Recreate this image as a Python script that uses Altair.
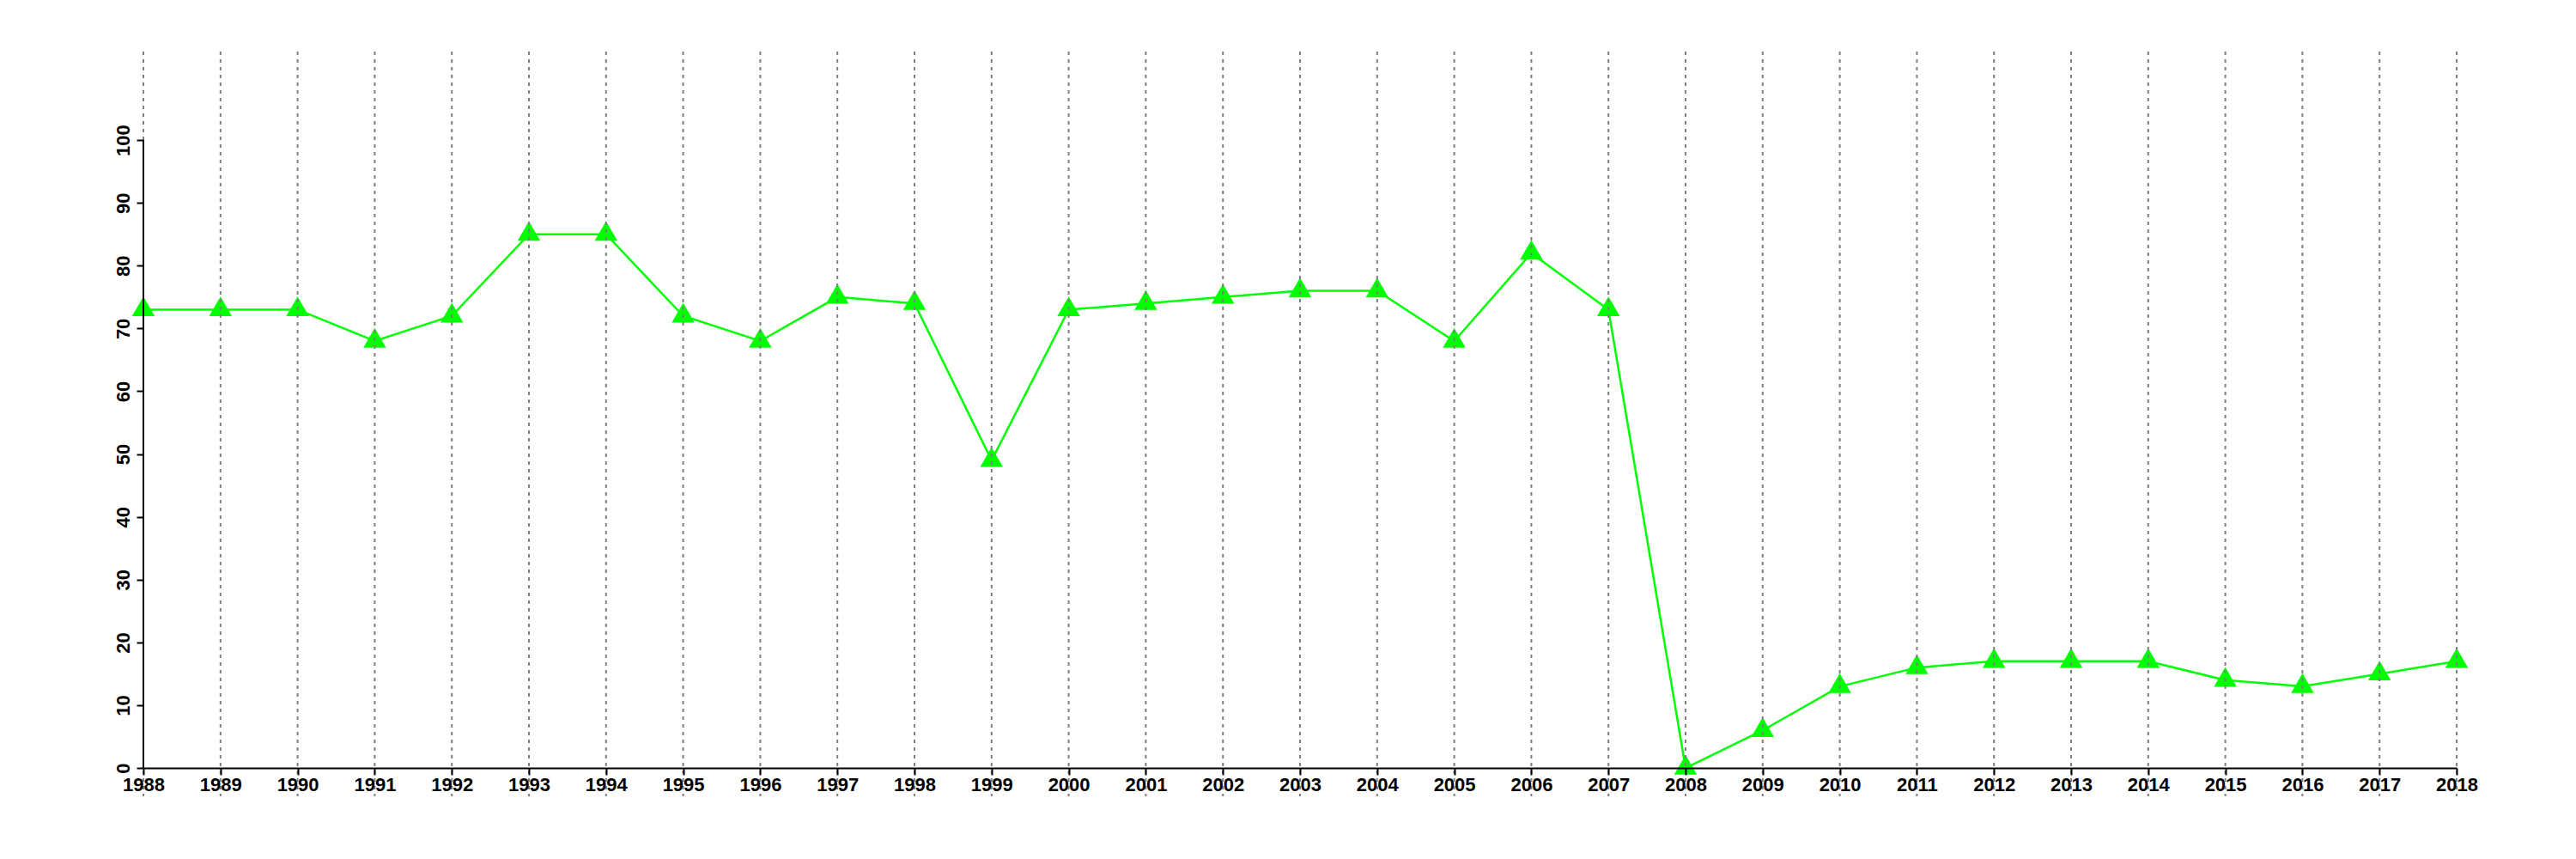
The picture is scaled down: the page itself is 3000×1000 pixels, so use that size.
import altair as alt
import pandas as pd

years = [1988, 1989, 1990, 1991, 1992, 1993, 1994, 1995, 1996, 1997, 1998,
         1999, 2000, 2001, 2002, 2003, 2004, 2005, 2006, 2007, 2008, 2009,
         2010, 2011, 2012, 2013, 2014, 2015, 2016, 2017, 2018]
values = [73, 73, 73, 68, 72, 85, 85, 72, 68, 75, 74,
          49, 73, 74, 75, 76, 76, 68, 82, 73, 0, 6,
          13, 16, 17, 17, 17, 14, 13, 15, 17]
y_ticks = [0, 10, 20, 30, 40, 50, 60, 70, 80, 90, 100]

df = pd.DataFrame({"year": years, "value": values})
grid_df = pd.DataFrame({"year": years})
yaxis_df = pd.DataFrame({"x": [years[0]], "y": [0], "y2": [100]})

W, H = 2694, 867
Y_LO, Y_HI = -4.5, 114.1
x_off = -round((0 - Y_LO) * H / (Y_HI - Y_LO))

FONT = "Liberation Sans"

xscale = alt.Scale(domain=[years[0], years[-1]], nice=False, zero=False)
yscale = alt.Scale(domain=[Y_LO, Y_HI], nice=False, zero=False)

xaxis = alt.Axis(values=years, format="d", title=None, grid=False,
                 domain=True, domainColor="black", domainWidth=2,
                 ticks=True, tickSize=8, tickColor="black", tickWidth=2,
                 labelFont=FONT, labelFontSize=22, labelFontWeight="bold",
                 labelColor="black", labelPadding=1, labelBaseline="top",
                 labelAlign="center", offset=x_off, zindex=1,
                 labelOverlap=False, labelFlush=False)
yaxis = alt.Axis(values=y_ticks, title=None, grid=False, domain=False,
                 ticks=True, tickSize=8, tickColor="black", tickWidth=2,
                 labelFont=FONT, labelFontSize=22, labelFontWeight="bold",
                 labelColor="black", labelAngle=270, labelAlign="center",
                 labelBaseline="alphabetic", labelPadding=9, zindex=1,
                 labelOverlap=False, labelFlush=False)

base = alt.Chart(df)

line = base.mark_line(color="#00ff00", strokeWidth=2.5).encode(
    x=alt.X("year:Q", scale=xscale, axis=xaxis),
    y=alt.Y("value:Q", scale=yscale, axis=yaxis),
)

tri = "M0,-1.155L1,0.577L-1,0.577Z"
points = base.mark_point(shape=tri, filled=True, color="#00ff00",
                         opacity=1, size=700).encode(
    x=alt.X("year:Q", scale=xscale),
    y=alt.Y("value:Q", scale=yscale),
)

grid = alt.Chart(grid_df).mark_rule(color="#7f7f7f", strokeWidth=2,
                                    strokeDash=[4, 5]).encode(
    x=alt.X("year:Q", scale=xscale),
)

yline = alt.Chart(yaxis_df).mark_rule(color="black", strokeWidth=2).encode(
    x=alt.X("x:Q", scale=xscale),
    y=alt.Y("y:Q", scale=yscale),
    y2="y2:Q",
)

chart = alt.layer(line, points, grid, yline).properties(
    width=W, height=H,
    background="white",
    autosize=alt.AutoSizeParams(type="none"),
    padding={"left": 159, "top": 52, "right": 80, "bottom": 40},
).configure_view(strokeWidth=0, stroke=None)

chart.save("out.html", embed_options={"renderer": "svg", "actions": False})
